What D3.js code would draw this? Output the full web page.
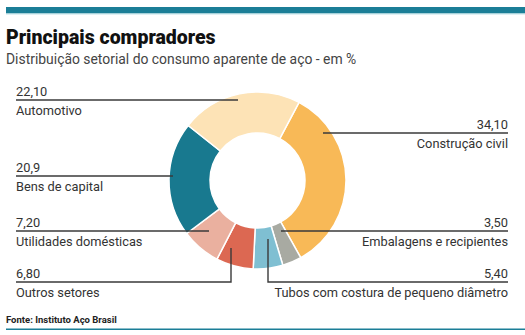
<!DOCTYPE html>
<html lang="pt">
<head>
<meta charset="UTF-8">
<title>Principais compradores</title>
<script src="https://d3js.org/d3.v7.min.js"></script>
<style>
  body { margin: 0; background: #fff; }
  svg { display: block; font-family: Roboto, "Noto Sans", sans-serif; }
  .lbl { font-size: 12.8px; fill: #333; }
  .lead { stroke: #3a3a3a; stroke-width: 1.4px; fill: none; }
</style>
</head>
<body>
<svg id="chart" width="525" height="335"></svg>
<script>
// setores, na ordem do anel (sentido horário a partir de Construção civil)
const sectors = ["Construção civil", "Embalagens e recipientes", "Tubos com costura de pequeno diâmetro",
  "Outros setores", "Utilidades domésticas", "Bens de capital", "Automotivo"];
const shares = [34.10, 3.50, 5.40, 6.80, 7.20, 20.9, 22.10];
const shareText = ["34,10", "3,50", "5,40", "6,80", "7,20", "20,9", "22,10"];
const colors = ["#f8b957", "#a8aaa2", "#7fbfd2", "#dc6852", "#eab09f", "#18798f", "#fde3b6"];

// posições das linhas de chamada (anotações)
const leaders = {
  "Construção civil":        {side: "r", y: 133, pts: [[323, 133]]},
  "Embalagens e recipientes": {side: "r", y: 231, pts: [[281, 231]]},
  "Tubos com costura de pequeno diâmetro": {side: "r", y: 282, pts: [[268, 282], [268, 239]]},
  "Outros setores":          {side: "l", y: 282, pts: [[231, 282], [231, 248]]},
  "Utilidades domésticas":   {side: "l", y: 231, pts: [[209, 231]]},
  "Bens de capital":         {side: "l", y: 176, pts: [[173, 176]]},
  "Automotivo":              {side: "l", y: 100, pts: [[238, 100]]}
};

const svg = d3.select("#chart");

// barra superior
svg.append("rect").attr("x", 6).attr("y", 7).attr("width", 519).attr("height", 6.5).attr("fill", "#1b7e97");
svg.append("rect").attr("x", 6).attr("y", 13.5).attr("width", 519).attr("height", 1).attr("fill", "#bfe3ea");

svg.append("text").attr("x", 6).attr("y", 44)
  .style("font-family", "Roboto, sans-serif").style("font-weight", 900).style("font-size", "19.5px")
  .attr("fill", "#111").text("Principais compradores");
svg.append("text").attr("x", 6).attr("y", 64)
  .style("font-size", "13.9px").attr("fill", "#444")
  .text("Distribuição setorial do consumo aparente de aço - em %");

const cx = 257.5, cy = 180.5;
const rOuter = 88.5, rInner = 47.5;
const start = 28 * Math.PI / 180;

const pie = d3.pie().sort(null).value(d => d.v).startAngle(start).endAngle(start + 2 * Math.PI);
const arc = d3.arc().innerRadius(rInner).outerRadius(rOuter);
const data = sectors.map((s, i) => ({s, v: shares[i], t: shareText[i], c: colors[i]}));

const g = svg.append("g").attr("transform", `translate(${cx},${cy})`);
g.selectAll("path")
  .data(pie(data))
  .join("path")
  .attr("d", arc)
  .attr("fill", d => d.data.c)
  .attr("stroke", "#fff")
  .attr("stroke-width", 1.5);

// chamadas
const xl = 16, xr = 508;
data.forEach(d => {
  const L = leaders[d.s];
  const startX = L.side === "l" ? xl : xr;
  const pts = [[startX, L.y]].concat(L.pts);
  svg.append("path").attr("class", "lead").attr("d", d3.line()(pts));
  const anchor = L.side === "l" ? "start" : "end";
  svg.append("text").attr("class", "lbl").attr("x", startX).attr("y", L.y - 4)
    .attr("text-anchor", anchor).text(d.t);
  svg.append("text").attr("class", "lbl").attr("x", startX).attr("y", L.y + 15)
    .attr("text-anchor", anchor).text(d.s);
});

svg.append("text").attr("x", 6).attr("y", 323)
  .style("font-size", "9.5px").style("font-weight", 700).attr("fill", "#222")
  .text("Fonte: Instituto Aço Brasil");
svg.append("rect").attr("x", 6).attr("y", 328.5).attr("width", 519).attr("height", 1.5).attr("fill", "#1b7e97");
</script>
</body>
</html>
